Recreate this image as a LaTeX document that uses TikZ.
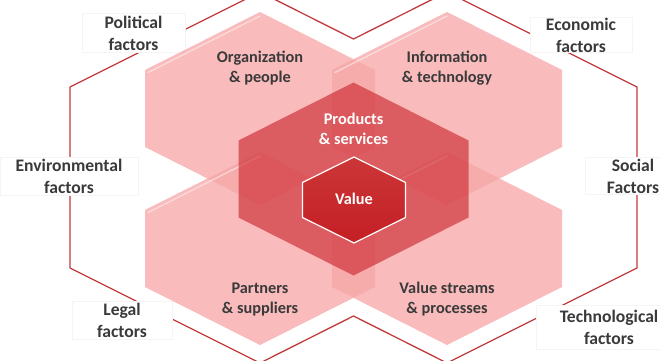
\documentclass[tikz,border=0pt]{standalone}
\usepackage{fontspec}
\setmainfont{Carlito}
\definecolor{framered}{HTML}{C23A3C}
\definecolor{palered}{RGB}{247,168,168}
\definecolor{psred}{RGB}{200,32,38}
\definecolor{valtop}{HTML}{CB3637}
\definecolor{valbot}{HTML}{C41F24}
\definecolor{txtgray}{HTML}{3A3A3A}
\begin{document}
\begin{tikzpicture}[x=1pt,y=-1pt, line join=round, line cap=round,
	font=\bfseries\fontsize{16.3}{20}\selectfont,
	pale/.style={fill=palered, fill opacity=.78},
	bevel/.style={white, opacity=.45, line width=1.4pt},
	factor/.style={fill=white, draw=black!4, text=txtgray, align=center, inner sep=0pt,
		font=\bfseries\fontsize{17.6}{22}\selectfont},
	dimlabel/.style={text=txtgray, align=center},
	corelabel/.style={text=white, align=center}]
	\useasboundingbox (0,0) rectangle (661,360);
	\path
	(260,108.5)coordinate(OP)
	(447,108.5)coordinate(IT)
	(260,248.5)coordinate(PS)
	(447,248.5)coordinate(VS)
	(353.5,179)coordinate(PR)
	(354,200)coordinate(V)
	;
	% outer frame
	\draw[framered, line width=1.3pt] (70,87)--(260,-8)--(353.5,39)--(447,-8)--(637,87)--(637,268)
		--(447,363)--(353.5,316)--(260,363)--(70,268)--cycle;
	\node[factor, minimum width=103pt, minimum height=39pt] (pol) at (133.5,33) {Political\\factors};
	\node[factor, minimum width=102pt, minimum height=35pt] (eco) at (581,35) {Economic\\factors};
	\node[factor, minimum width=138pt, minimum height=38pt] (env) at (69,176) {Environmental\\factors};
	\node[factor, minimum width=96pt, minimum height=37pt] (soc) at (633,176) {Social\\Factors};
	\node[factor, minimum width=100pt, minimum height=38pt] (leg) at (122,320) {Legal\\factors};
	\node[factor, minimum width=146pt, minimum height=44pt] (tec) at (609,327) {Technological\\factors};
	% four dimensions
	\foreach \c in {OP,IT,PS,VS}{
		\fill[pale] (\c) ++(0,-96.5)--++(115,58)--++(0,77)--++(-115,58)--++(-115,-58)--++(0,-77)--cycle;
		\draw[bevel] (\c) ++(-112,-36)--++(112,-56.5);
	}
	\fill[psred, fill opacity=.6] (PR) ++(0,-96.5)--++(115,58)--++(0,77)--++(-115,58)--++(-115,-58)--++(0,-77)--cycle;
	\shadedraw[draw=white, line width=1.2pt, top color=valtop, bottom color=valbot]
		(V) ++(0,-43)--++(51.5,25.5)--++(0,35)--++(-51.5,25.5)--++(-51.5,-25.5)--++(0,-35)--cycle;
	\node[dimlabel] (op) at (260,68) {Organization\\\& people};
	\node[dimlabel] (it) at (447,68) {Information\\\& technology};
	\node[dimlabel] (ps) at (260,299.5) {Partners\\\& suppliers};
	\node[dimlabel] (vs) at (447,299.5) {Value streams\\\& processes};
	\node[corelabel] (pr) at (353.5,128.5) {Products\\\& services};
	\node[corelabel] (val) at (354,199) {Value};
\end{tikzpicture}
\end{document}
